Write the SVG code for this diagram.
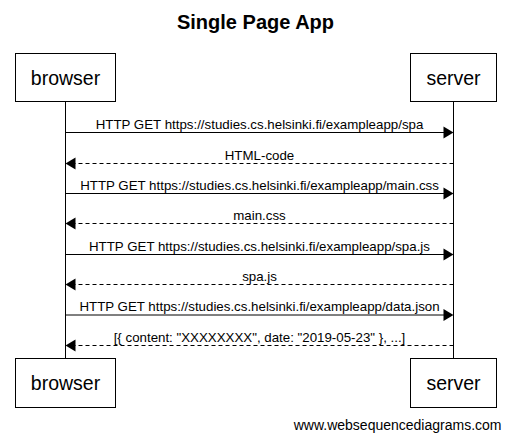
<svg xmlns="http://www.w3.org/2000/svg" width="511" height="442" viewBox="0 0 511 442">
<style>
.bg{fill:#fff}
.box{fill:#fff;stroke:#000;stroke-width:1}
.actor{font-family:"Liberation Sans",Arial,sans-serif;font-size:19.5px;fill:#000;text-anchor:middle}
.title{font-family:"Liberation Sans",Arial,sans-serif;font-size:20px;font-weight:bold;fill:#000;text-anchor:middle}
.lbl{font-family:"Liberation Sans",Arial,sans-serif;font-size:13.3px;fill:#000;text-anchor:middle}
.foot{font-family:"Liberation Sans",Arial,sans-serif;font-size:14px;fill:#000;text-anchor:end}
.life{stroke:#000;stroke-width:1;fill:none}
.msg{stroke:#000;stroke-width:1;fill:none}
.ret{stroke:#000;stroke-width:1;fill:none;stroke-dasharray:4,3}
.head{fill:#000}
</style>
<rect class="bg" x="0" y="0" width="511" height="442"/>
<text class="title" x="255.5" y="29">Single Page App</text>
<g id="lifelines">
<line class="life" x1="65.5" y1="101.5" x2="65.5" y2="358.5"/>
<line class="life" x1="453.5" y1="101.5" x2="453.5" y2="358.5"/>
</g>
<g id="browser-top"><rect class="box" x="15.5" y="53.5" width="100" height="48"/><text class="actor" x="65.5" y="85">browser</text></g>
<g id="server-top"><rect class="box" x="410.5" y="53.5" width="86" height="48"/><text class="actor" x="453.5" y="85">server</text></g>
<g id="browser-bottom"><rect class="box" x="15.5" y="358.5" width="100" height="49"/><text class="actor" x="65.5" y="390">browser</text></g>
<g id="server-bottom"><rect class="box" x="410.5" y="358.5" width="86" height="49"/><text class="actor" x="453.5" y="390">server</text></g>
<g id="connectors">
<line class="msg" x1="65.5" y1="132.5" x2="444" y2="132.5"/><polygon class="head" points="453.5,132.5 443.5,126.5 443.5,138.5"/>
<text class="lbl" x="259.5" y="128.5">HTTP GET https://studies.cs.helsinki.fi/exampleapp/spa</text>
<line class="ret" x1="453.5" y1="163.5" x2="75" y2="163.5"/><polygon class="head" points="65.5,163.5 75.5,157.5 75.5,169.5"/>
<text class="lbl" x="259.5" y="159.5">HTML-code</text>
<line class="msg" x1="65.5" y1="193.5" x2="444" y2="193.5"/><polygon class="head" points="453.5,193.5 443.5,187.5 443.5,199.5"/>
<text class="lbl" x="259.5" y="189.5">HTTP GET https://studies.cs.helsinki.fi/exampleapp/main.css</text>
<line class="ret" x1="453.5" y1="223.5" x2="75" y2="223.5"/><polygon class="head" points="65.5,223.5 75.5,217.5 75.5,229.5"/>
<text class="lbl" x="259.5" y="219.5">main.css</text>
<line class="msg" x1="65.5" y1="254.5" x2="444" y2="254.5"/><polygon class="head" points="453.5,254.5 443.5,248.5 443.5,260.5"/>
<text class="lbl" x="259.5" y="250.5">HTTP GET https://studies.cs.helsinki.fi/exampleapp/spa.js</text>
<line class="ret" x1="453.5" y1="284.5" x2="75" y2="284.5"/><polygon class="head" points="65.5,284.5 75.5,278.5 75.5,290.5"/>
<text class="lbl" x="259.5" y="280.5">spa.js</text>
<line class="msg" x1="65.5" y1="315" x2="444" y2="315"/><polygon class="head" points="453.5,315 443.5,309 443.5,321"/>
<text class="lbl" x="259.5" y="311">HTTP GET https://studies.cs.helsinki.fi/exampleapp/data.json</text>
<line class="ret" x1="453.5" y1="345.5" x2="75" y2="345.5"/><polygon class="head" points="65.5,345.5 75.5,339.5 75.5,351.5"/>
<text class="lbl" x="259.5" y="341.5">[{ content: "XXXXXXXX", date: "2019-05-23" }, ...]</text>
</g>
<text class="foot" x="501.5" y="430">www.websequencediagrams.com</text>
</svg>
